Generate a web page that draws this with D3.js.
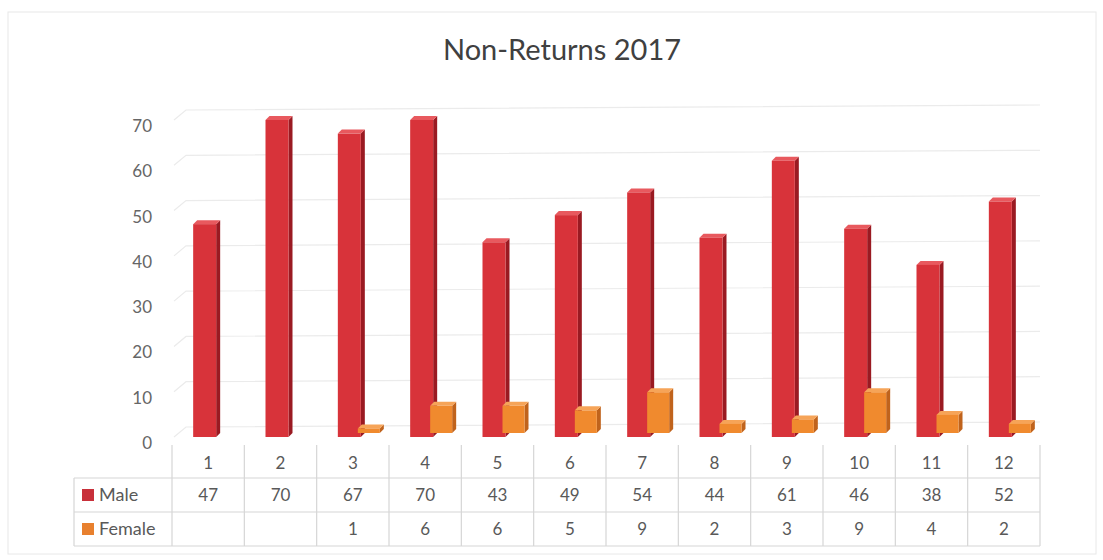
<!DOCTYPE html>
<html>
<head>
<meta charset="utf-8">
<script src="https://cdn.jsdelivr.net/npm/d3@7"></script>
<style>
  body { margin: 0; background: #fff; }
  svg { display: block; font-family: Lato, "Open Sans", sans-serif; }
</style>
</head>
<body>
<div id="chart"></div>
<script>
var months = ["1", "2", "3", "4", "5", "6", "7", "8", "9", "10", "11", "12"];
var male = [47, 70, 67, 70, 43, 49, 54, 44, 61, 46, 38, 52];
var female = [null, null, 1, 6, 6, 5, 9, 2, 3, 9, 4, 2];
var yTicks = [0, 10, 20, 30, 40, 50, 60, 70];
var seriesNames = ["Male", "Female"];

var width = 1103, height = 560;
var svg = d3.select("#chart").append("svg")
    .attr("width", width)
    .attr("height", height);

// faint scanned frame
svg.append("rect")
    .attr("x", 8).attr("y", 12)
    .attr("width", 1088).attr("height", 542)
    .attr("fill", "#fff")
    .attr("stroke", "#e8e8e8");

svg.append("text")
    .attr("x", 562).attr("y", 60)
    .attr("text-anchor", "middle")
    .attr("font-size", "29px")
    .attr("fill", "#404040")
    .text("Non-Returns 2017");

var x = d3.scaleBand().domain(months).range([172, 1040]);
var y = d3.scaleLinear().domain([0, 70]).range([437, 120]);

// back wall gridlines (slight perspective)
var grid = svg.append("g");
yTicks.forEach(function(v) {
    grid.append("path")
        .attr("d", "M174," + y(v) + "L186," + (y(v) - 10) + "L1040," + (y(v) - 15))
        .attr("fill", "none")
        .attr("stroke", "#ebebeb")
        .attr("stroke-width", 1.2);
});

// y axis labels
svg.append("g")
    .attr("transform", "translate(152,6)")
    .call(d3.axisLeft(y).tickValues(yTicks).tickSize(0).tickPadding(0))
    .call(function(g) { g.select(".domain").remove(); })
    .selectAll("text")
        .attr("font-size", "17px")
        .attr("font-family", "Lato, sans-serif")
        .attr("fill", "#666");

var depth = 4;
function drawBars(values, dx, dy, faceW, colors) {
    var g = svg.append("g").attr("transform", "translate(" + dx + "," + dy + ")");
    var data = months.map(function(m, i) { return {m: m, v: values[i]}; })
        .filter(function(d) { return d.v != null; });
    var bars = g.selectAll("g.bar").data(data).enter().append("g").attr("class", "bar");
    bars.append("path")
        .attr("fill", colors[1])
        .attr("d", function(d) {
            var x1 = x(d.m) + x.bandwidth() / 2 + faceW;
            return "M" + x1 + "," + y(d.v) + "L" + (x1 + depth) + "," + (y(d.v) - depth) +
                "L" + (x1 + depth) + "," + (y(0) - depth) + "L" + x1 + "," + y(0) + "Z";
        });
    bars.append("path")
        .attr("fill", colors[2])
        .attr("d", function(d) {
            var x0 = x(d.m) + x.bandwidth() / 2, x1 = x0 + faceW;
            return "M" + x0 + "," + y(d.v) + "L" + (x0 + depth) + "," + (y(d.v) - depth) +
                "L" + (x1 + depth) + "," + (y(d.v) - depth) + "L" + x1 + "," + y(d.v) + "Z";
        });
    bars.append("rect")
        .attr("x", function(d) { return x(d.m) + x.bandwidth() / 2; })
        .attr("y", function(d) { return y(d.v); })
        .attr("width", faceW)
        .attr("height", function(d) { return y(0) - y(d.v); })
        .attr("fill", colors[0]);
}
drawBars(male, -15, 0, 23, ["#d8333a", "#9a1a22", "#e8595e"]);
drawBars(female, 5, -4, 22, ["#f08a2e", "#c0631c", "#f6a458"]);

// data table
var table = svg.append("g").attr("stroke", "#d6d6d6").attr("stroke-width", 1.2);
x.domain().forEach(function(m) {
    table.append("line").attr("x1", x(m)).attr("x2", x(m)).attr("y1", 445).attr("y2", 546);
});
table.append("line").attr("x1", 1040).attr("x2", 1040).attr("y1", 445).attr("y2", 546);
table.append("line").attr("x1", 74).attr("x2", 74).attr("y1", 478).attr("y2", 546);
[478, 512, 546].forEach(function(ly) {
    table.append("line").attr("x1", 74).attr("x2", 1040).attr("y1", ly).attr("y2", ly);
});

var rowY = [463, 495, 529];
var cells = svg.append("g")
    .attr("font-size", "17px")
    .attr("fill", "#595959")
    .attr("text-anchor", "middle");
months.forEach(function(m, i) {
    var cx = x(m) + x.bandwidth() / 2;
    cells.append("text").attr("x", cx).attr("y", rowY[0]).attr("dy", "0.35em").text(m);
    cells.append("text").attr("x", cx).attr("y", rowY[1]).attr("dy", "0.35em").text(male[i]);
    if (female[i] != null) {
        cells.append("text").attr("x", cx).attr("y", rowY[2]).attr("dy", "0.35em").text(female[i]);
    }
});

var legendColors = ["#c8303a", "#e8802e"];
seriesNames.forEach(function(name, i) {
    svg.append("rect")
        .attr("x", 82).attr("y", rowY[i + 1] - 6)
        .attr("width", 12).attr("height", 12)
        .attr("fill", legendColors[i]);
    svg.append("text")
        .attr("x", 99).attr("y", rowY[i + 1])
        .attr("dy", "0.35em")
        .attr("font-size", "18px")
        .attr("fill", "#595959")
        .text(name);
});
</script>
</body>
</html>
